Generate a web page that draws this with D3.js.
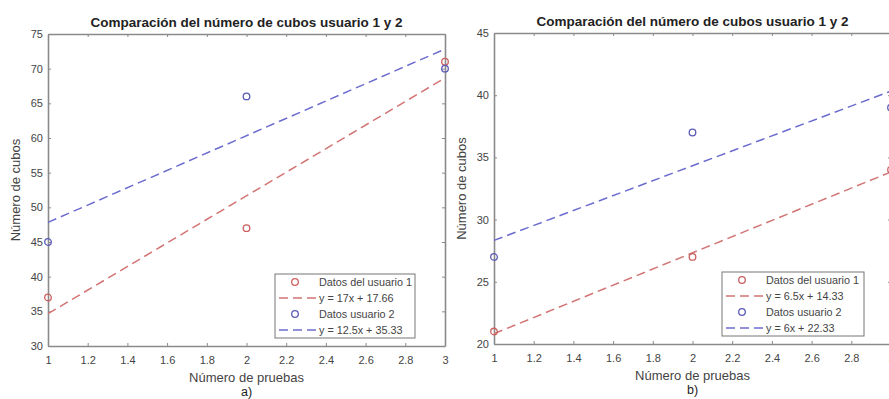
<!DOCTYPE html>
<html>
<head>
<meta charset="utf-8">
<script src="https://cdn.jsdelivr.net/npm/d3@7"></script>
<style>
  body { margin: 0; background: #fff; }
  svg { display: block; font-family: "Liberation Sans", Arial, sans-serif; }
  .tick text { fill: #444; font-size: 11px; }
</style>
</head>
<body>
<svg width="889" height="399"></svg>
<script>
// data
var pruebas = [1, 2, 3];
var xTicks = [1, 1.2, 1.4, 1.6, 1.8, 2, 2.2, 2.4, 2.6, 2.8, 3];

var usuario1A = [37, 47, 71];
var usuario2A = [45, 66, 70];
var ajuste1A = [17, 17.66];   // slope, intercept
var ajuste2A = [12.5, 35.33];
var legendA = ["Datos del usuario 1", "y = 17x + 17.66", "Datos usuario 2", "y = 12.5x + 35.33"];
var yTicksA = [30, 35, 40, 45, 50, 55, 60, 65, 70, 75];

var usuario1B = [21, 27, 34];
var usuario2B = [27, 37, 39];
var ajuste1B = [6.5, 14.33];
var ajuste2B = [6, 22.33];
var legendB = ["Datos del usuario 1", "y = 6.5x + 14.33", "Datos usuario 2", "y = 6x + 22.33"];
var yTicksB = [20, 25, 30, 35, 40, 45];

var rojo = "#cc5f5f", azul = "#5a5ab8";
var rojoLinea = "#d27474", azulLinea = "#6c6cd0";

var svg = d3.select("svg");

function panel(o) {
    var g = svg.append("g").attr("transform", "translate(" + o.left + "," + o.top + ")");
    var w = o.width, h = o.height;

    var x = d3.scaleLinear().domain([1, 3]).range([0, w]);
    var y = d3.scaleLinear().domain(o.yDomain).range([h, 0]);

    var clipId = "clip" + o.id;
    g.append("clipPath").attr("id", clipId)
        .append("rect").attr("x", -6).attr("y", -6).attr("width", w + 12).attr("height", h + 12);

    // frame + ticks (inward, on all sides)
    g.append("g").attr("transform", "translate(0," + h + ")")
        .call(d3.axisBottom(x).tickValues(xTicks).tickSizeInner(-3).tickSizeOuter(0).tickPadding(10)
            .tickFormat(d3.format("~g")));
    g.append("g")
        .call(d3.axisTop(x).tickValues(xTicks).tickSizeInner(-3).tickSizeOuter(0).tickFormat(""));
    g.append("g")
        .call(d3.axisLeft(y).tickValues(o.yTicks).tickSizeInner(-3).tickSizeOuter(0).tickPadding(5));
    g.append("g").attr("transform", "translate(" + w + ",0)")
        .call(d3.axisRight(y).tickValues(o.yTicks).tickSizeInner(-3).tickSizeOuter(0).tickFormat(""));
    g.selectAll(".domain").attr("stroke", "#8a8a8a").attr("stroke-width", 1.6);
    g.selectAll(".tick line").attr("stroke", "#8a8a8a");

    // fit lines
    var linea = d3.line().x(function (d) { return x(d[0]); }).y(function (d) { return y(d[1]); });
    [[o.fit1, rojoLinea], [o.fit2, azulLinea]].forEach(function (f) {
        var pts = [1, 3].map(function (v) { return [v, f[0][0] * v + f[0][1]]; });
        g.append("path").datum(pts)
            .attr("d", linea)
            .attr("fill", "none")
            .attr("stroke", f[1])
            .attr("stroke-width", 1.5)
            .attr("stroke-dasharray", "9,5");
    });

    // data points
    [[o.u1, rojo], [o.u2, azul]].forEach(function (s) {
        g.append("g").attr("clip-path", "url(#" + clipId + ")")
            .selectAll("circle")
            .data(pruebas)
            .enter()
            .append("circle")
            .attr("cx", function (d) { return x(d); })
            .attr("cy", function (d, i) { return y(s[0][i]); })
            .attr("r", 3.3)
            .attr("fill", "none")
            .attr("stroke", s[1])
            .attr("stroke-width", 1.3);
    });

    // title
    g.append("text")
        .attr("x", w / 2).attr("y", -7)
        .attr("text-anchor", "middle")
        .style("font-size", "13.5px").style("font-weight", "bold").attr("fill", "#222")
        .text("Comparación del número de cubos usuario 1 y 2");

    // axis labels
    g.append("text")
        .attr("x", w / 2).attr("y", h + 36)
        .attr("text-anchor", "middle")
        .style("font-size", "13px").attr("fill", "#444")
        .text("Número de pruebas");
    g.append("text")
        .attr("x", w / 2).attr("y", h + 50)
        .attr("text-anchor", "middle")
        .style("font-size", "12.5px").attr("fill", "#222")
        .text(o.id + ")");
    g.append("text")
        .attr("transform", "translate(" + (-28) + "," + (h / 2) + ") rotate(-90)")
        .attr("text-anchor", "middle")
        .style("font-size", "13px").attr("fill", "#444")
        .text("Número de cubos");

    // legend
    var lg = g.append("g").attr("transform", "translate(" + o.legendX + "," + (h - 72) + ")");
    lg.append("rect")
        .attr("width", o.legendW).attr("height", 64)
        .attr("fill", "#fff").attr("stroke", "#777").attr("stroke-width", 1);
    var items = [
        { t: "m", c: rojo }, { t: "l", c: rojoLinea },
        { t: "m", c: azul }, { t: "l", c: azulLinea }
    ];
    items.forEach(function (it, i) {
        var cy = 8 + i * 16;
        if (it.t === "m") {
            lg.append("circle").attr("cx", 20).attr("cy", cy).attr("r", 3.3)
                .attr("fill", "none").attr("stroke", it.c).attr("stroke-width", 1.3);
        } else {
            lg.append("line").attr("x1", 4).attr("x2", 42).attr("y1", cy).attr("y2", cy)
                .attr("stroke", it.c).attr("stroke-width", 1.5).attr("stroke-dasharray", "9,5");
        }
        lg.append("text").attr("x", 44).attr("y", cy + 3.8)
            .style("font-size", "10.8px").attr("fill", "#444")
            .text(o.legend[i]);
    });
}

panel({ id: "a", left: 48, top: 34, width: 397, height: 312, yDomain: [30, 75], yTicks: yTicksA,
    u1: usuario1A, u2: usuario2A, fit1: ajuste1A, fit2: ajuste2A, legend: legendA, legendX: 227, legendW: 140 });
panel({ id: "b", left: 494, top: 33, width: 397, height: 311, yDomain: [20, 45], yTicks: yTicksB,
    u1: usuario1B, u2: usuario2B, fit1: ajuste1B, fit2: ajuste2B, legend: legendB, legendX: 228, legendW: 142 });
</script>
</body>
</html>
